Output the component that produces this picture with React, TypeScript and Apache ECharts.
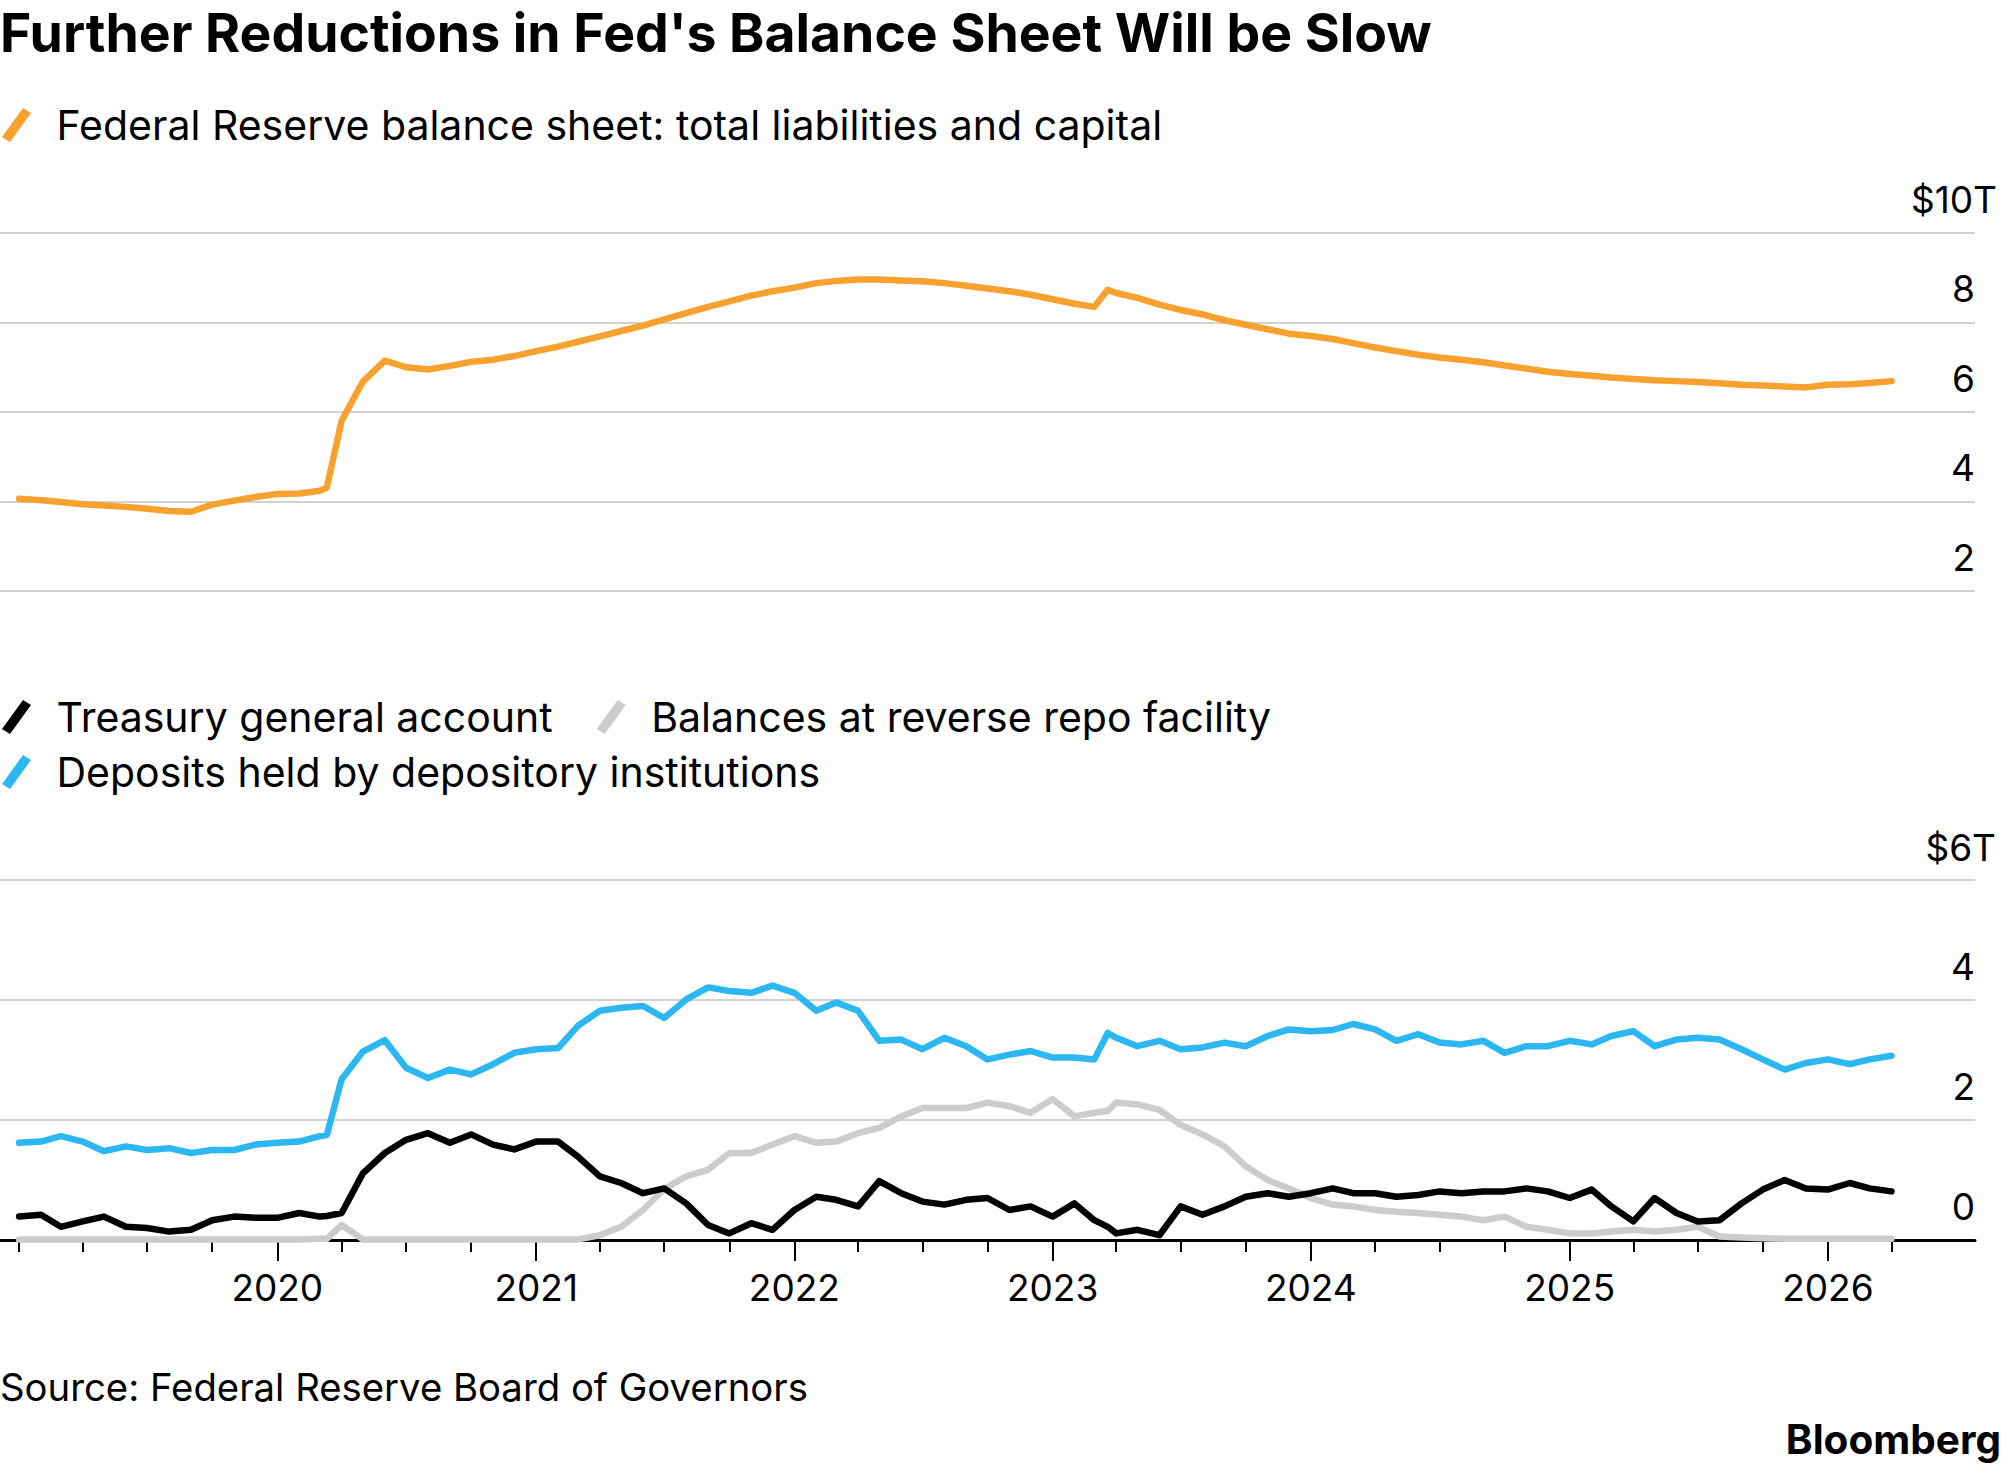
import React, { useEffect, useRef } from "react";
import * as echarts from "echarts";

// Monthly observations (first of month), plus two extra points around March shocks
const dates = [
  "2019-01-01", "2019-02-01", "2019-03-01", "2019-04-01", "2019-05-01", "2019-06-01",
  "2019-07-01", "2019-08-01", "2019-09-01", "2019-10-01", "2019-11-01", "2019-12-01",
  "2020-01-01", "2020-02-01", "2020-03-01", "2020-03-11", "2020-04-01", "2020-05-01", "2020-06-01",
  "2020-07-01", "2020-08-01", "2020-09-01", "2020-10-01", "2020-11-01", "2020-12-01",
  "2021-01-01", "2021-02-01", "2021-03-01", "2021-04-01", "2021-05-01", "2021-06-01",
  "2021-07-01", "2021-08-01", "2021-09-01", "2021-10-01", "2021-11-01", "2021-12-01",
  "2022-01-01", "2022-02-01", "2022-03-01", "2022-04-01", "2022-05-01", "2022-06-01",
  "2022-07-01", "2022-08-01", "2022-09-01", "2022-10-01", "2022-11-01", "2022-12-01",
  "2023-01-01", "2023-02-01", "2023-03-01", "2023-03-20", "2023-04-01", "2023-05-01", "2023-06-01",
  "2023-07-01", "2023-08-01", "2023-09-01", "2023-10-01", "2023-11-01", "2023-12-01",
  "2024-01-01", "2024-02-01", "2024-03-01", "2024-04-01", "2024-05-01", "2024-06-01",
  "2024-07-01", "2024-08-01", "2024-09-01", "2024-10-01", "2024-11-01", "2024-12-01",
  "2025-01-01", "2025-02-01", "2025-03-01", "2025-04-01", "2025-05-01", "2025-06-01",
  "2025-07-01", "2025-08-01", "2025-09-01", "2025-10-01", "2025-11-01", "2025-12-01",
  "2026-01-01", "2026-02-01", "2026-03-01", "2026-04-01",
];

// $ trillions
const totalLiabilities = [
  4.06, 4.03, 3.99, 3.94, 3.91, 3.88, 3.84, 3.79, 3.77, 3.93, 4.02, 4.10,
  4.17, 4.18, 4.24, 4.31, 5.81, 6.68, 7.15, 7.00, 6.95, 7.03, 7.12, 7.17, 7.25,
  7.36, 7.46, 7.57, 7.69, 7.81, 7.93, 8.07, 8.21, 8.35, 8.47, 8.60, 8.70,
  8.78, 8.88, 8.93, 8.96, 8.96, 8.94, 8.92, 8.88, 8.82, 8.76, 8.70, 8.62,
  8.52, 8.42, 8.35, 8.73, 8.66, 8.55, 8.40, 8.28, 8.18, 8.05, 7.95, 7.85, 7.75,
  7.70, 7.63, 7.54, 7.44, 7.36, 7.28, 7.22, 7.17, 7.11, 7.04, 6.97, 6.90,
  6.85, 6.81, 6.77, 6.74, 6.71, 6.69, 6.67, 6.64, 6.61, 6.59, 6.57, 6.55,
  6.61, 6.62, 6.65, 6.69,
];

const treasuryGeneral = [
  0.39, 0.42, 0.22, 0.31, 0.39, 0.22, 0.20, 0.14, 0.17, 0.33, 0.39, 0.37,
  0.37, 0.45, 0.39, 0.40, 0.45, 1.11, 1.45, 1.67, 1.78, 1.62, 1.76, 1.59, 1.51,
  1.64, 1.64, 1.39, 1.06, 0.95, 0.78, 0.86, 0.61, 0.25, 0.11, 0.28, 0.17,
  0.50, 0.72, 0.67, 0.56, 0.98, 0.78, 0.64, 0.59, 0.67, 0.70, 0.50, 0.56,
  0.39, 0.61, 0.33, 0.22, 0.11, 0.17, 0.08, 0.56, 0.42, 0.56, 0.72, 0.78, 0.72,
  0.78, 0.86, 0.78, 0.78, 0.72, 0.75, 0.81, 0.78, 0.81, 0.81, 0.86, 0.81,
  0.70, 0.84, 0.56, 0.31, 0.70, 0.45, 0.31, 0.33, 0.61, 0.84, 1.00, 0.86,
  0.84, 0.95, 0.86, 0.81,
];

const reverseRepo = [
  0.01, 0.01, 0.01, 0.01, 0.01, 0.01, 0.01, 0.01, 0.01, 0.01, 0.01, 0.01,
  0.01, 0.01, 0.02, 0.02, 0.25, 0.01, 0.01, 0.01, 0.01, 0.01, 0.01, 0.01, 0.01,
  0.01, 0.01, 0.01, 0.08, 0.22, 0.50, 0.85, 1.06, 1.17, 1.45, 1.45, 1.59,
  1.73, 1.62, 1.64, 1.78, 1.87, 2.06, 2.20, 2.20, 2.20, 2.29, 2.23, 2.12,
  2.35, 2.06, 2.12, 2.15, 2.29, 2.26, 2.17, 1.92, 1.76, 1.56, 1.23, 1.00, 0.86,
  0.70, 0.59, 0.56, 0.50, 0.47, 0.45, 0.42, 0.39, 0.33, 0.39, 0.22, 0.17,
  0.11, 0.11, 0.14, 0.17, 0.14, 0.17, 0.22, 0.06, 0.04, 0.03, 0.02, 0.02,
  0.02, 0.02, 0.02, 0.02,
];

const depositoryDeposits = [
  1.62, 1.64, 1.73, 1.64, 1.48, 1.56, 1.50, 1.53, 1.45, 1.50, 1.50, 1.59,
  1.62, 1.64, 1.73, 1.75, 2.68, 3.14, 3.33, 2.87, 2.70, 2.84, 2.76, 2.93, 3.12,
  3.18, 3.20, 3.57, 3.82, 3.87, 3.90, 3.70, 4.01, 4.21, 4.15, 4.12, 4.24,
  4.12, 3.82, 3.96, 3.82, 3.32, 3.34, 3.18, 3.37, 3.23, 3.01, 3.09, 3.15,
  3.04, 3.04, 3.01, 3.45, 3.37, 3.23, 3.32, 3.18, 3.21, 3.29, 3.23, 3.40, 3.51,
  3.48, 3.50, 3.60, 3.51, 3.32, 3.43, 3.29, 3.26, 3.32, 3.12, 3.23, 3.23,
  3.32, 3.26, 3.40, 3.48, 3.23, 3.34, 3.37, 3.34, 3.18, 3.01, 2.84, 2.95,
  3.01, 2.93, 3.01, 3.07,
];

const yearTickDates = [
  "2020-01-01", "2021-01-01", "2022-01-01", "2023-01-01", "2024-01-01", "2025-01-01", "2026-01-01",
];
const quarterTickDates = [
  "2019-01-01", "2019-04-01", "2019-07-01", "2019-10-01",
  "2020-01-01", "2020-04-01", "2020-07-01", "2020-10-01",
  "2021-01-01", "2021-04-01", "2021-07-01", "2021-10-01",
  "2022-01-01", "2022-04-01", "2022-07-01", "2022-10-01",
  "2023-01-01", "2023-04-01", "2023-07-01", "2023-10-01",
  "2024-01-01", "2024-04-01", "2024-07-01", "2024-10-01",
  "2025-01-01", "2025-04-01", "2025-07-01", "2025-10-01",
  "2026-01-01", "2026-04-01",
];
const axisStart = "2018-12-05";
const axisEnd = "2026-07-28";

const topTicks = [2, 4, 6, 8, 10];
const bottomTicks = [0, 2, 4, 6];

const NAME_TOTAL = "Federal Reserve balance sheet: total liabilities and capital";
const NAME_TGA = "Treasury general account";
const NAME_RRP = "Balances at reverse repo facility";
const NAME_DEP = "Deposits held by depository institutions";

const ORANGE = "#F9A12E";
const BLUE = "#2DB7F2";
const GRAY = "#CCCCCC";
const BLACK = "#000000";
const GRID = "#D2D2D2";
const FONT = 'Inter, "Liberation Sans", Arial, sans-serif';

const ts = (s: string) => {
  const [y, m, d] = s.split("-").map(Number);
  return Date.UTC(y, m - 1, d);
};

const pairs = (vals: number[]) => dates.map((d, i) => [ts(d), vals[i]]);

const SLASH = "path://M0,29 L21,0 L29,5 L8,34 Z";

export default function App() {
  const ref = useRef<HTMLDivElement>(null);

  useEffect(() => {
    if (!ref.current) return;
    const chart = echarts.init(ref.current, undefined, { renderer: "svg" });
    const xMin = ts(axisStart);
    const xMax = ts(axisEnd);

    const yLabel = (hideVal: number) => ({
      inside: true,
      margin: 0,
      align: "right",
      verticalAlign: "bottom",
      lineHeight: 40,
      padding: [0, 0, 14, 0],
      fontSize: 37,
      fontFamily: FONT,
      color: "#000",
      formatter: (v: number) => (v === hideVal ? "" : String(v)),
    });

    const legendText = {
      fontSize: 41,
      fontFamily: FONT,
      color: "#000",
      padding: [0, 0, 0, 20],
      lineHeight: 44,
    };

    const lineSeries = (name: string, vals: number[], color: string, axis: number, z: number) => ({
      name,
      type: "line",
      xAxisIndex: axis === 0 ? 0 : 1,
      yAxisIndex: axis,
      data: pairs(vals),
      showSymbol: false,
      symbol: "none",
      color,
      lineStyle: { color, width: 6.5, join: "round", cap: "round" },
      itemStyle: { color },
      z,
    });

    chart.setOption({
      animation: false,
      backgroundColor: "#fff",
      title: {
        text: "Further Reductions in Fed's Balance Sheet Will be Slow",
        left: 0,
        top: 3,
        padding: 0,
        textStyle: {
          fontSize: 53.5,
          fontWeight: "bold",
          fontFamily: FONT,
          color: "#000",
          lineHeight: 58,
        },
      },
      legend: [
        {
          left: 2,
          top: 103,
          padding: 0,
          icon: SLASH,
          itemWidth: 30,
          itemHeight: 34,
          selectedMode: false,
          itemStyle: { borderWidth: 0 },
          textStyle: legendText,
          data: [NAME_TOTAL],
        },
        {
          left: 2,
          top: 695,
          padding: 0,
          icon: SLASH,
          itemWidth: 30,
          itemHeight: 34,
          itemGap: 44,
          selectedMode: false,
          itemStyle: { borderWidth: 0 },
          textStyle: legendText,
          data: [NAME_TGA, NAME_RRP],
        },
        {
          left: 2,
          top: 750,
          padding: 0,
          icon: SLASH,
          itemWidth: 30,
          itemHeight: 34,
          selectedMode: false,
          itemStyle: { borderWidth: 0 },
          textStyle: legendText,
          data: [NAME_DEP],
        },
      ],
      grid: [
        { left: 0, top: 233, width: 1975, height: 358, containLabel: false },
        { left: 0, top: 880, width: 1975, height: 360, containLabel: false },
      ],
      xAxis: [
        { gridIndex: 0, type: "value", min: xMin, max: xMax, show: false, splitLine: { show: false } },
        {
          gridIndex: 1,
          type: "value",
          min: xMin,
          max: xMax,
          position: "bottom",
          axisLine: { show: true, onZero: false, lineStyle: { color: "#000", width: 3 } },
          axisTick: {
            show: true,
            customValues: quarterTickDates.map(ts),
            length: 12,
            lineStyle: { color: "#000", width: 2 },
          },
          axisLabel: { show: false },
          splitLine: { show: false },
        },
        {
          gridIndex: 1,
          type: "value",
          min: xMin,
          max: xMax,
          position: "bottom",
          axisLine: { show: false, onZero: false },
          axisTick: {
            show: true,
            customValues: yearTickDates.map(ts),
            length: 21,
            lineStyle: { color: "#000", width: 2 },
          },
          axisLabel: {
            show: true,
            customValues: yearTickDates.map(ts),
            margin: 27,
            fontSize: 37,
            lineHeight: 40,
            fontFamily: FONT,
            color: "#000",
            formatter: (v: number) => String(new Date(v).getUTCFullYear()),
          },
          splitLine: { show: false },
        },
      ],
      yAxis: [
        {
          gridIndex: 0,
          type: "value",
          position: "right",
          min: topTicks[0],
          max: topTicks[topTicks.length - 1],
          interval: 2,
          axisLine: { show: false },
          axisTick: { show: false },
          splitLine: { show: true, lineStyle: { color: GRID, width: 2 } },
          axisLabel: yLabel(10),
        },
        {
          gridIndex: 1,
          type: "value",
          position: "right",
          min: bottomTicks[0],
          max: bottomTicks[bottomTicks.length - 1],
          interval: 2,
          axisLine: { show: false },
          axisTick: { show: false },
          splitLine: { show: true, lineStyle: { color: GRID, width: 2 } },
          axisLabel: yLabel(6),
        },
      ],
      graphic: [
        {
          type: "text",
          x: 1997,
          y: 199,
          style: {
            text: "$10T",
            fontSize: 37,
            fontFamily: FONT,
            fill: "#000",
            align: "right",
            textAlign: "right",
            verticalAlign: "middle",
            textVerticalAlign: "middle",
          },
        },
        {
          type: "text",
          x: 1996,
          y: 847,
          style: {
            text: "$6T",
            fontSize: 37,
            fontFamily: FONT,
            fill: "#000",
            align: "right",
            textAlign: "right",
            verticalAlign: "middle",
            textVerticalAlign: "middle",
          },
        },
        {
          type: "text",
          x: 0,
          y: 1387,
          style: {
            text: "Source: Federal Reserve Board of Governors",
            fontSize: 38.3,
            fontFamily: FONT,
            fill: "#000",
            align: "left",
            textAlign: "left",
            verticalAlign: "middle",
            textVerticalAlign: "middle",
          },
        },
        {
          type: "text",
          x: 2001,
          y: 1439,
          style: {
            text: "Bloomberg",
            fontSize: 40.5,
            fontWeight: "bold",
            fontFamily: FONT,
            fill: "#000",
            align: "right",
            textAlign: "right",
            verticalAlign: "middle",
            textVerticalAlign: "middle",
          },
        },
      ],
      series: [
        lineSeries(NAME_TOTAL, totalLiabilities, ORANGE, 0, 3),
        lineSeries(NAME_RRP, reverseRepo, GRAY, 1, 2),
        lineSeries(NAME_TGA, treasuryGeneral, BLACK, 1, 3),
        lineSeries(NAME_DEP, depositoryDeposits, BLUE, 1, 4),
      ],
    });

    return () => chart.dispose();
  }, []);

  return (
    <div
      ref={ref}
      style={{ position: "fixed", left: 0, top: 0, width: 2001, height: 1467, background: "#fff" }}
    />
  );
}
